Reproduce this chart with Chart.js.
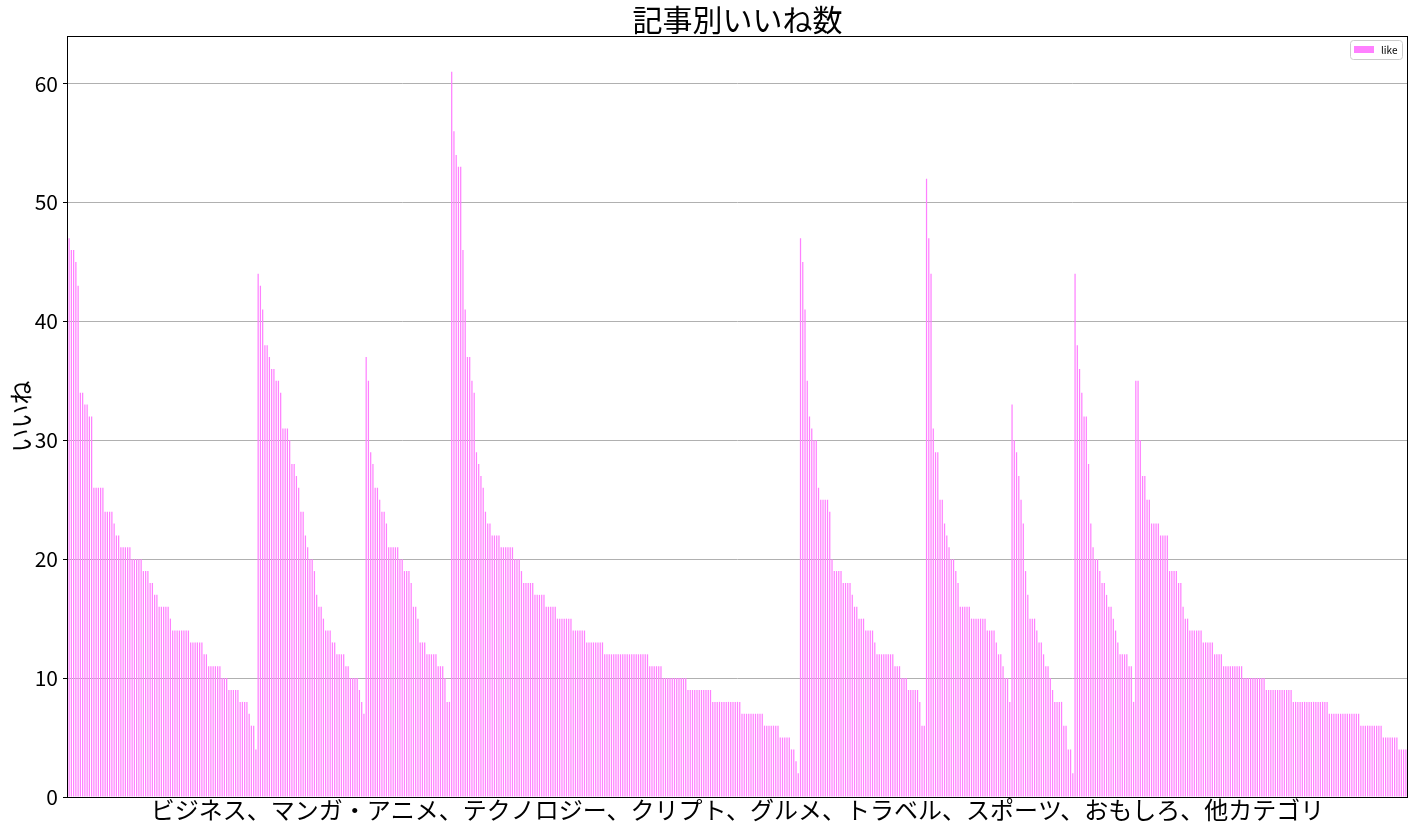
<!DOCTYPE html>
<html>
<head>
<meta charset="utf-8">
<script src="https://cdn.jsdelivr.net/npm/chart.js@4"></script>
<style>
  body { margin: 0; background: #fff; }
  #wrap { width: 1417px; height: 832px; }
</style>
</head>
<body>
<div id="wrap"><canvas id="likeChart" width="1417" height="832"></canvas></div>
<script>
// いいね数 per article, sorted inside each category
const business = [47, 46, 46, 45, 43, 34, 34, 33, 33, 32, 32, 26, 26, 26, 26, 26, 24, 24, 24, 24,
  23, 22, 22, 21, 21, 21, 21, 21, 20, 20, 20, 20, 20, 19, 19, 19, 18, 18, 17, 17,
  16, 16, 16, 16, 16, 15, 14, 14, 14, 14, 14, 14, 14, 14, 13, 13, 13, 13, 13, 13,
  12, 12, 11, 11, 11, 11, 11, 11, 10, 10, 10, 9, 9, 9, 9, 9, 8, 8, 8, 8, 7, 6, 6, 4];
const mangaAnime = [44, 43, 41, 38, 38, 37, 36, 36, 35, 35, 34, 31, 31, 31, 30, 28, 28, 27, 26, 24,
  24, 22, 21, 20, 20, 19, 17, 16, 16, 15, 14, 14, 14, 13, 13, 12, 12, 12, 12, 11,
  11, 10, 10, 10, 10, 9, 8, 7];
const technology = [37, 35, 29, 28, 26, 26, 25, 24, 24, 23, 21, 21, 21, 21, 21, 20, 20, 19, 19, 19,
  18, 16, 16, 15, 13, 13, 13, 12, 12, 12, 12, 12, 11, 11, 11, 10, 8, 8];
const crypto = [61, 56, 54, 53, 53, 46, 41, 37, 37, 35, 34, 29, 28, 27, 26, 24, 23, 23, 22, 22,
  22, 22, 21, 21, 21, 21, 21, 21, 20, 20, 20, 19, 18, 18, 18, 18, 18, 17, 17, 17,
  17, 17, 16, 16, 16, 16, 16, 15, 15, 15, 15, 15, 15, 15, 14, 14, 14, 14, 14, 14,
  13, 13, 13, 13, 13, 13, 13, 13, 12, 12, 12, 12, 12, 12, 12, 12, 12, 12, 12, 12,
  12, 12, 12, 12, 12, 12, 12, 12, 11, 11, 11, 11, 11, 11, 10, 10, 10, 10, 10, 10,
  10, 10, 10, 10, 10, 9, 9, 9, 9, 9, 9, 9, 9, 9, 9, 9, 8, 8, 8, 8,
  8, 8, 8, 8, 8, 8, 8, 8, 8, 7, 7, 7, 7, 7, 7, 7, 7, 7, 7, 6,
  6, 6, 6, 6, 6, 6, 5, 5, 5, 5, 5, 4, 4, 3, 2];
const gourmet = [47, 45, 41, 35, 32, 31, 30, 30, 26, 25, 25, 25, 25, 24, 20, 19, 19, 19, 19, 18,
  18, 18, 18, 17, 16, 16, 15, 15, 15, 14, 14, 14, 14, 13, 12, 12, 12, 12, 12, 12,
  12, 12, 11, 11, 11, 10, 10, 10, 9, 9, 9, 9, 9, 8, 6, 6];
const travel = [52, 47, 44, 31, 29, 29, 25, 25, 23, 22, 21, 20, 20, 19, 18, 16, 16, 16, 16, 16,
  15, 15, 15, 15, 15, 15, 15, 14, 14, 14, 14, 13, 12, 12, 11, 10, 10, 8];
const sports = [33, 30, 29, 27, 25, 23, 19, 17, 15, 15, 15, 14, 13, 13, 12, 11, 11, 10, 9, 8,
  8, 8, 8, 6, 6, 4, 4, 2];
const funny = [44, 38, 36, 34, 32, 32, 28, 23, 21, 20, 20, 19, 18, 18, 17, 16, 16, 15, 14, 13,
  12, 12, 12, 12, 11, 11, 8];
const others = [35, 35, 30, 27, 27, 25, 25, 23, 23, 23, 23, 22, 22, 22, 22, 19, 19, 19, 19, 18,
  18, 16, 15, 15, 14, 14, 14, 14, 14, 14, 13, 13, 13, 13, 13, 12, 12, 12, 12, 11,
  11, 11, 11, 11, 11, 11, 11, 11, 10, 10, 10, 10, 10, 10, 10, 10, 10, 10, 9, 9,
  9, 9, 9, 9, 9, 9, 9, 9, 9, 9, 8, 8, 8, 8, 8, 8, 8, 8, 8, 8,
  8, 8, 8, 8, 8, 8, 7, 7, 7, 7, 7, 7, 7, 7, 7, 7, 7, 7, 7, 7,
  6, 6, 6, 6, 6, 6, 6, 6, 6, 6, 5, 5, 5, 5, 5, 5, 5, 4, 4, 4, 4];

const categoryNames = ["ビジネス", "マンガ・アニメ", "テクノロジー", "クリプト", "グルメ",
  "トラベル", "スポーツ", "おもしろ", "他カテゴリ"];
const categoryData = [business, mangaAnime, technology, crypto, gourmet, travel, sports, funny, others];
const yTicks = [0, 10, 20, 30, 40, 50, 60];

const likes = [];
const labels = [];
categoryData.forEach(function (arr, c) {
  arr.forEach(function (v, i) {
    likes.push(v);
    labels.push(categoryNames[c] + " " + (i + 1));
  });
});

const FONT = "'Noto Sans CJK JP', 'Noto Sans', sans-serif";
const PINK = "#ff80ff";

// matplotlib style frame + legend inside the axes
const framePlugin = {
  id: "frame",
  afterDraw(chart) {
    const ctx = chart.ctx;
    const a = chart.chartArea;
    ctx.save();
    ctx.strokeStyle = "#000";
    ctx.lineWidth = 1;
    ctx.strokeRect(Math.round(a.left) - 0.5, Math.round(a.top) + 0.5,
      Math.round(a.right - a.left) + 1, Math.round(a.bottom - a.top));

    const bx = a.right - 57, by = a.top + 4, bw = 52, bh = 19;
    ctx.beginPath();
    ctx.roundRect(bx + 0.5, by + 0.5, bw, bh, 3);
    ctx.fillStyle = "rgba(255,255,255,0.8)";
    ctx.fill();
    ctx.strokeStyle = "#cccccc";
    ctx.stroke();
    ctx.fillStyle = PINK;
    ctx.fillRect(bx + 4, by + 6, 20, 7);
    ctx.fillStyle = "#000";
    ctx.font = "10px " + FONT;
    ctx.textBaseline = "middle";
    ctx.textAlign = "left";
    ctx.fillText("like", bx + 31, by + 10);
    ctx.restore();
  }
};

new Chart(document.getElementById("likeChart"), {
  type: "bar",
  data: {
    labels: labels,
    datasets: [
      {
        label: "like",
        data: likes,
        backgroundColor: PINK,
        borderWidth: 0,
        categoryPercentage: 1.0,
        barPercentage: 0.55,
      },
    ],
  },
  options: {
    responsive: false,
    animation: false,
    layout: { padding: { left: 0, right: 10, top: 0, bottom: 0 } },
    plugins: {
      legend: { display: false },
      tooltip: { enabled: false },
      title: {
        display: true,
        fullSize: false,
        text: "記事別いいね数",
        color: "#000",
        font: { family: FONT, size: 30, weight: "normal", lineHeight: 1.1 },
        padding: { top: 3, bottom: 0 },
      },
    },
    scales: {
      x: {
        ticks: { display: false },
        grid: { display: false },
        border: { display: false },
        title: {
          display: true,
          text: categoryNames.join("、"),
          color: "#000",
          font: { family: FONT, size: 24 },
          padding: { top: 0, bottom: 8 },
        },
        afterFit(scale) { scale.height = 35; },
      },
      y: {
        min: 0,
        max: 64,
        z: 1,
        afterBuildTicks(scale) { scale.ticks = yTicks.map(function (v) { return { value: v }; }); },
        ticks: {
          stepSize: 10,
          includeBounds: false,
          color: "#000",
          padding: 5,
          font: { family: FONT, size: 21 },
        },
        grid: { color: "#b0b0b0", lineWidth: 1, tickColor: "#000", tickLength: 5 },
        border: { display: false },
        title: {
          display: true,
          text: "いいね",
          color: "#000",
          font: { family: FONT, size: 24 },
          padding: { top: 6, bottom: 0 },
        },
        afterFit(scale) { scale.width = 68; },
      },
    },
  },
  plugins: [framePlugin],
});
</script>
</body>
</html>
